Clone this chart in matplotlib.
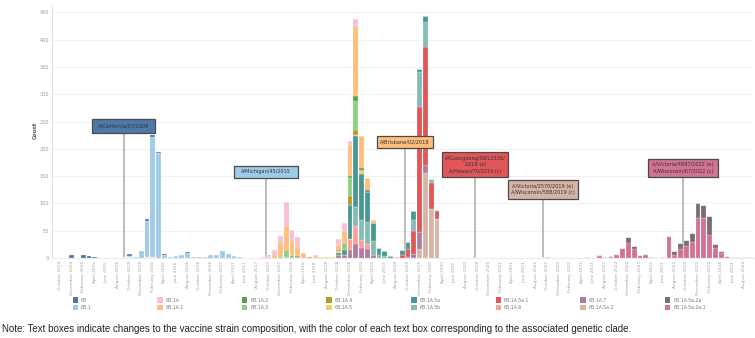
import matplotlib
matplotlib.use("Agg")
import matplotlib.pyplot as plt
from matplotlib.patches import Rectangle
import numpy as np

# ---------------- data ----------------
month_names = ["January", "February", "March", "April", "May", "June", "July",
               "August", "September", "October", "November", "December"]
months = [f"{2014 + (9 + i) // 12}-{(9 + i) % 12 + 1:02d}" for i in range(120)]  # Oct 2014 .. Sep 2024
month_labels = [f"{month_names[int(m[5:]) - 1]} {m[:4]}" for m in months]

clades = ["6B", "6B.1", "6B.1A", "6B.1A.1", "6B.1A.2", "6B.1A.3", "6B.1A.4", "6B.1A.5",
          "6B.1A.5a", "6B.1A.5b", "6B.1A.5a.1", "6B.1A.6", "6B.1A.7", "6B.1A.5a.2",
          "6B.1A.5a.2a", "6B.1A.5a.2a.1"]
clade_colors = ["#4e79a7", "#a0cbe8", "#fabfd2", "#ffbe7d", "#59a14f", "#8cd17d", "#b6992d",
                "#f1ce63", "#499894", "#86bcb6", "#e15759", "#ff9d9a", "#b07aa1", "#d7b5a6",
                "#79706e", "#d37295"]

c_6B = {"2014-12": 5, "2015-02": 5, "2015-03": 3, "2015-04": 1, "2015-10": 5, "2016-01": 4,
        "2016-02": 5, "2016-03": 3, "2016-04": 2, "2016-08": 2, "2016-09": 1}
c_6B_1 = {"2015-10": 1, "2015-11": 1, "2015-12": 13, "2016-01": 66, "2016-02": 219, "2016-03": 192,
          "2016-04": 6, "2016-05": 1, "2016-06": 4, "2016-07": 6, "2016-08": 9, "2016-09": 1,
          "2016-10": 1, "2016-11": 2, "2016-12": 5, "2017-01": 5, "2017-02": 12, "2017-03": 7,
          "2017-04": 3, "2017-05": 1, "2017-10": 1}
c_1A = {"2017-09": 1, "2017-10": 3, "2017-11": 9, "2017-12": 14, "2018-01": 44, "2018-02": 18,
        "2018-03": 19, "2018-06": 5, "2018-07": 1, "2018-10": 11, "2018-11": 14, "2018-12": 8,
        "2019-01": 12}
c_1A_1 = {"2017-10": 1, "2017-11": 5, "2017-12": 25, "2018-01": 44, "2018-02": 29, "2018-03": 17,
          "2018-04": 10, "2018-05": 1, "2018-06": 1, "2018-07": 1, "2018-08": 1, "2018-09": 1,
          "2018-10": 10, "2018-11": 22, "2018-12": 56, "2019-01": 130, "2019-02": 59,
          "2019-03": 22, "2019-04": 5}
c_1A_2 = {"2018-02": 2, "2018-03": 1, "2018-05": 1, "2018-10": 2, "2018-12": 5, "2019-01": 8,
          "2019-02": 3, "2019-03": 4}
c_1A_3 = {"2017-12": 2, "2018-01": 12, "2018-02": 2, "2018-03": 2, "2018-11": 11, "2018-12": 33,
          "2019-01": 54}
c_1A_4 = {"2018-11": 3, "2018-12": 15, "2019-01": 8, "2019-02": 2}
c_1A_5 = {"2018-10": 2, "2019-01": 3, "2019-02": 6}
c_1A_5a = {"2018-10": 5, "2018-11": 9, "2018-12": 64, "2019-01": 129, "2019-02": 85, "2019-03": 55,
           "2019-04": 33, "2019-05": 14, "2019-06": 8, "2019-07": 4, "2019-08": 1, "2019-09": 9,
           "2019-10": 12, "2019-11": 17, "2019-12": 7, "2020-01": 10}
c_1A_5b = {"2018-01": 2, "2019-01": 35, "2019-02": 36, "2019-03": 40, "2019-04": 26, "2019-05": 5,
           "2019-06": 4, "2019-11": 21, "2019-12": 63, "2020-01": 46, "2020-02": 6, "2020-03": 2}
c_1A_5a_1 = {"2019-08": 1, "2019-09": 5, "2019-10": 15, "2019-11": 41, "2019-12": 229,
             "2020-01": 217, "2020-02": 49, "2020-03": 15, "2021-10": 1}
c_1A_6 = {"2015-10": 2, "2016-01": 2, "2016-02": 2, "2018-12": 19, "2019-01": 33, "2019-02": 15,
          "2019-03": 10, "2022-05": 1}
c_1A_7 = {"2018-10": 5, "2018-11": 5, "2018-12": 15, "2019-01": 26, "2019-02": 18, "2019-03": 16,
          "2019-04": 5, "2019-10": 2, "2019-11": 8, "2019-12": 32, "2020-01": 15}
c_1A_5a_2 = {"2019-12": 16, "2020-01": 155, "2020-02": 89, "2020-03": 71}
c_1A_5a_2a = {"2022-07": 2, "2022-09": 1, "2022-10": 1, "2022-11": 1, "2022-12": 12, "2023-01": 5,
              "2023-03": 2, "2023-04": 1, "2023-08": 7, "2023-09": 11, "2023-10": 11,
              "2023-11": 15, "2023-12": 26, "2024-01": 23, "2024-02": 35, "2024-03": 8,
              "2024-04": 2, "2024-05": 1, "2024-08": 1}
c_1A_5a_2a_1 = {"2022-07": 4, "2022-08": 2, "2022-09": 2, "2022-10": 6, "2022-11": 18,
                "2022-12": 27, "2023-01": 17, "2023-02": 5, "2023-03": 5, "2023-06": 2,
                "2023-07": 40, "2023-08": 5, "2023-09": 16, "2023-10": 22, "2023-11": 30,
                "2023-12": 74, "2024-01": 74, "2024-02": 42, "2024-03": 18, "2024-04": 10,
                "2024-05": 3, "2024-06": 2, "2024-07": 1, "2024-08": 1, "2024-09": 1}

clade_counts = [c_6B, c_6B_1, c_1A, c_1A_1, c_1A_2, c_1A_3, c_1A_4, c_1A_5, c_1A_5a, c_1A_5b,
                c_1A_5a_1, c_1A_6, c_1A_7, c_1A_5a_2, c_1A_5a_2a, c_1A_5a_2a_1]

# vaccine strain changes: text, box colour, month position, box half width (months), box y range
vaccine_texts = ["A/California/07/2009", "A/Michigan/45/2015", "A/Brisbane/02/2018",
                 "A/Guangdong/SWL1536/\n2019 (e)\nA/Hawaii/70/2019 (c)",
                 "A/Victoria/2570/2019 (e)\nA/Wisconsin/588/2019 (c)",
                 "A/Victoria/4897/2022 (e)\nA/Wisconsin/67/2022 (c)"]
vaccine_colors = ["#4e79a7", "#a0cbe8", "#ffbe7d", "#e15759", "#d7b5a6", "#d37295"]
vaccine_pos = [11.0, 35.5, 59.5, 71.6, 83.3, 107.4]
box_halfw = [5.4, 5.45, 4.8, 5.65, 6.0, 6.1]
box_ylo = [229.7, 146.1, 201.1, 147.9, 107.6, 147.9]
box_yhi = [254.8, 169.2, 223.6, 193.7, 143.0, 181.5]

note = ("Note: Text boxes indicate changes to the vaccine strain composition, with the color of "
        "each text box corresponding to the associated genetic clade.")

# ---------------- figure ----------------
W, H = 755, 338
fig = plt.figure(figsize=(W / 100, H / 100), dpi=100)
ax = fig.add_axes([52 / W, (H - 258) / H, (754 - 52) / W, 253 / H])

x = np.arange(len(months))
bottom = np.zeros(len(months))
for name, col, d in reversed(list(zip(clades, clade_colors, clade_counts))):
    vals = np.array([d.get(m, 0) for m in months], dtype=float)
    ax.bar(x, vals, bottom=bottom, width=0.84, color=col, edgecolor="white",
           linewidth=0.15, zorder=3)
    bottom += vals

ax.set_xlim(-1.38, 119.66)
ax.set_ylim(0, 463.7)
ax.set_yticks(np.arange(0, 451, 50))
ax.tick_params(axis="y", length=0, pad=2.2, labelsize=3.6, labelcolor="#999999")
ax.set_xticks(x[::2])
ax.set_xticklabels(month_labels[::2], rotation=90, fontsize=3.1, color="#a0a0a0")
ax.tick_params(axis="x", length=0, pad=2.2)
ax.grid(axis="y", color="#eeeeee", linewidth=0.6, zorder=0)
ax.set_axisbelow(True)
for s in ["top", "right"]:
    ax.spines[s].set_visible(False)
ax.spines["left"].set_color("#dddddd")
ax.spines["left"].set_linewidth(0.6)
ax.spines["bottom"].set_color("#e6e6e6")
ax.spines["bottom"].set_linewidth(0.6)

fig.text(35 / W, 1 - 130 / H, "Count", rotation=90, fontsize=3.8, fontweight="bold",
         color="#555555", ha="center", va="center")

# vaccine annotations
for txt, col, xp, hw, ylo, yhi in zip(vaccine_texts, vaccine_colors, vaccine_pos, box_halfw,
                                      box_ylo, box_yhi):
    ax.plot([xp, xp], [0, ylo], color="#aaaaaa", linewidth=1.1, zorder=2, solid_capstyle="butt")
    ax.add_patch(Rectangle((xp - hw, ylo), 2 * hw, yhi - ylo, facecolor=col,
                           edgecolor="#4a4a4a", linewidth=0.9, zorder=6))
    ax.text(xp, (ylo + yhi) / 2, txt, ha="center", va="center", fontsize=3.6,
            color="#333333", zorder=7, linespacing=1.35, family="DejaVu Sans")

# legend (manual, Tableau-like grid)
for k, (name, col) in enumerate(zip(clades, clade_colors)):
    c, r = divmod(k, 2)
    x0 = 72.5 + c * 84.6
    yc = 300.0 + r * 7.4
    fig.add_artist(Rectangle((x0 / W, 1 - (yc + 2.7) / H), 5.6 / W, 5.4 / H,
                             facecolor=col, edgecolor="none", transform=fig.transFigure))
    fig.text((x0 + 8.5) / W, 1 - yc / H, name, fontsize=3.3, color="#777777",
             ha="left", va="center")

fig.text(2 / W, 1 - 328.5 / H, note, fontsize=7.0, color="#222222", ha="left", va="center",
         family="Liberation Sans")

fig.savefig("out.png", dpi=100)
